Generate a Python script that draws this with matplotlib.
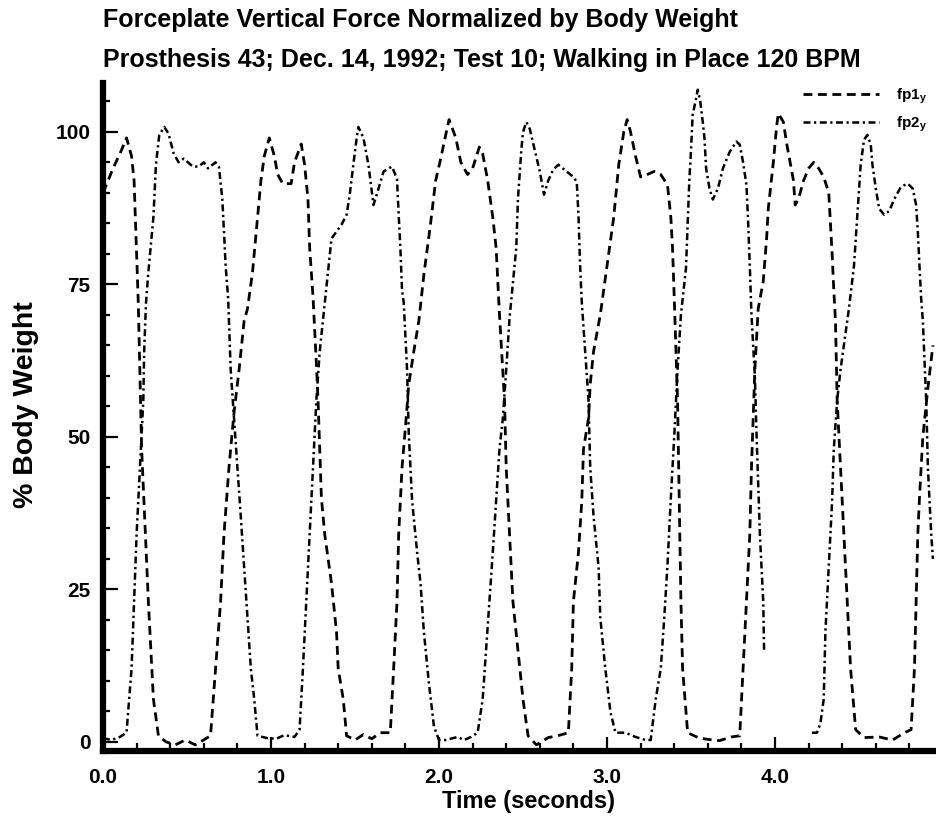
import numpy as np
import matplotlib
matplotlib.use("Agg")
import matplotlib.pyplot as plt

# --- data (time in s, % body weight) ---
t_fp1 = [0.00, 0.06, 0.11, 0.14, 0.17, 0.185, 0.196, 0.21, 0.23, 0.27, 0.30, 0.33,
         0.375, 0.43, 0.49, 0.55, 0.61, 0.64, 0.67, 0.70, 0.72, 0.75, 0.78, 0.81,
         0.84, 0.86, 0.89, 0.92, 0.94, 0.96, 0.99, 1.02, 1.04, 1.07, 1.12, 1.14,
         1.18, 1.20, 1.22, 1.23, 1.25, 1.27, 1.28, 1.30, 1.32, 1.36, 1.39, 1.40,
         1.43, 1.45, 1.50, 1.55, 1.60, 1.65, 1.71, 1.73, 1.75, 1.76, 1.78, 1.80,
         1.82, 1.85, 1.88, 1.91, 1.95, 1.98, 2.01, 2.04, 2.06, 2.10, 2.13, 2.17,
         2.20, 2.24, 2.26, 2.29, 2.32, 2.34, 2.35, 2.36, 2.39, 2.40, 2.42, 2.44,
         2.47, 2.50, 2.53, 2.58, 2.65, 2.72, 2.77, 2.79, 2.80, 2.83, 2.85, 2.86,
         2.89, 2.90, 2.92, 2.96, 3.00, 3.04, 3.07, 3.10, 3.12, 3.14, 3.17, 3.20,
         3.24, 3.28, 3.32, 3.36, 3.38, 3.39, 3.40, 3.42, 3.43, 3.44, 3.45, 3.48,
         3.55, 3.63, 3.67, 3.74, 3.79, 3.81, 3.83, 3.85, 3.86, 3.87, 3.88, 3.90,
         3.93, 3.95, 3.96, 3.99, 4.01, 4.02, 4.05, 4.07, 4.09, 4.11, 4.12, 4.14,
         4.17, 4.20, 4.23, 4.26, 4.29, 4.32, 4.33, 4.34, 4.35, 4.36, 4.37, 4.39,
         4.41, 4.43, 4.45, 4.48, 4.53, 4.62, 4.70, 4.77, 4.81, 4.83, 4.84, 4.85,
         4.86, 4.88, 4.91, 4.94]
fp1 = [90, 94, 97, 99, 96, 92, 83, 72, 48, 23, 7, 1,
       0, -0.5, 0.3, -0.5, 0.5, 1, 12, 23, 34, 45, 54, 61,
       69, 71, 77, 86, 92, 96, 99, 96, 93, 91.5, 91.5, 95,
       98, 94.6, 89, 81, 73, 62, 56, 40, 34, 26, 18, 12,
       7, 1, 0.3, 1.2, 0.5, 1.5, 1.5, 12, 23, 34, 45, 51.5,
       58.6, 64, 69, 76.6, 85, 92, 95.6, 99.5, 102, 99, 95, 93,
       94, 97.5, 96.4, 92, 86, 81, 75.5, 70, 56, 45, 34, 23,
       15, 7, 1, -0.5, 0.7, 1.1, 1.5, 12, 23, 31, 39.5, 48,
       53, 58.6, 64, 70, 78, 86, 94.6, 100, 102, 100, 96, 92.6,
       93, 93.5, 93, 91.3, 86, 81, 73, 56, 39.5, 23, 12, 1.5,
       0.6, 0.3, 0.2, 0.8, 1, 12, 23, 34, 45, 53, 61, 71,
       75.5, 82.5, 87.4, 95, 101, 103, 101.6, 98, 95, 92, 88, 89,
       92, 94, 95, 94, 92.6, 90, 85, 80, 74, 69, 56, 45,
       34, 23, 12, 2, 0.7, 0.8, 0.3, 1.5, 2, 12, 23, 34,
       40, 50, 58, 65]

t_fp2 = [0.00, 0.05, 0.10, 0.14, 0.17, 0.185, 0.20, 0.22, 0.24, 0.245, 0.256, 0.27,
         0.30, 0.315, 0.335, 0.365, 0.39, 0.42, 0.45, 0.48, 0.535, 0.57, 0.60, 0.625,
         0.67, 0.69, 0.71, 0.72, 0.73, 0.745, 0.76, 0.78, 0.80, 0.82, 0.84, 0.86,
         0.88, 0.90, 0.92, 0.98, 1.03, 1.08, 1.14, 1.17, 1.19, 1.21, 1.23, 1.25,
         1.27, 1.29, 1.32, 1.36, 1.42, 1.45, 1.47, 1.49, 1.51, 1.52, 1.55, 1.58,
         1.61, 1.64, 1.67, 1.72, 1.75, 1.76, 1.77, 1.78, 1.79, 1.81, 1.82, 1.84,
         1.87, 1.89, 1.91, 1.94, 1.97, 2.00, 2.04, 2.11, 2.15, 2.19, 2.23, 2.26,
         2.28, 2.30, 2.32, 2.34, 2.36, 2.38, 2.40, 2.42, 2.46, 2.47, 2.49, 2.50,
         2.52, 2.54, 2.57, 2.60, 2.625, 2.65, 2.68, 2.71, 2.76, 2.80, 2.82, 2.83,
         2.84, 2.85, 2.89, 2.90, 2.92, 2.95, 2.96, 2.99, 3.02, 3.05, 3.11, 3.17,
         3.23, 3.26, 3.29, 3.32, 3.34, 3.36, 3.38, 3.40, 3.42, 3.44, 3.47, 3.48,
         3.49, 3.50, 3.51, 3.53, 3.54, 3.555, 3.57, 3.58, 3.59, 3.61, 3.63, 3.66,
         3.69, 3.73, 3.77, 3.79, 3.81, 3.83, 3.84, 3.85, 3.86, 3.88, 3.89, 3.91,
         3.93, 3.935, 4.00, 4.22, 4.25, 4.27, 4.29, 4.30, 4.32, 4.34, 4.35, 4.37,
         4.39, 4.44, 4.47, 4.49, 4.51, 4.53, 4.55, 4.57, 4.58, 4.60, 4.62, 4.65,
         4.68, 4.71, 4.75, 4.79, 4.82, 4.84, 4.85, 4.86, 4.87, 4.88, 4.90, 4.91,
         4.93, 4.94]
fp2 = [0.6, 0.3, 0.8, 1.5, 12, 23, 34, 45, 56, 64, 72, 77,
       86, 94.6, 99.5, 100.8, 99.7, 96.5, 95, 95.6, 94.3, 94.3, 95, 94,
       95, 94.3, 89, 83.7, 78, 72.7, 61, 53, 45, 37, 28.6, 20.4,
       12, 7, 1, 0.6, 0.5, 1.1, 0.8, 2, 12, 23, 34, 45,
       56, 64, 72, 82.5, 84.8, 86.4, 90, 94.6, 99, 100.8, 99, 94.6,
       88, 90.7, 93.5, 94.3, 92.3, 86.4, 81, 74, 72, 61, 50.5, 39.5,
       31, 26, 18, 9.6, 2.5, 0.3, 0.3, 0.8, 0.3, 0.8, 1.5, 7,
       15, 23, 31, 39.5, 48, 53, 61, 69.5, 81, 89, 97, 100,
       101.6, 100.5, 97, 93.5, 89.7, 92, 93.8, 94.6, 93.5, 92.6, 91.8, 86.4,
       78, 72, 56, 45, 37, 28.6, 20.4, 12, 5, 1.5, 1.5, 0.8,
       0.3, 0.3, 7, 12, 20, 29, 40, 50, 61, 70, 77.6, 85,
       92, 97, 102.8, 105.4, 106.9, 105, 101.6, 99, 94, 90.7, 88.9, 90.7,
       94, 96.7, 98.4, 97.9, 95, 91.3, 85.3, 78, 70, 60, 50.5, 34,
       23, 15, np.nan, 1.5, 1.5, 3, 7, 18, 28.6, 39.5, 48, 56,
       61, 71, 78, 86.4, 94.6, 98.7, 99.5, 97.9, 94.6, 90.7, 87.4, 86.4,
       87, 89, 91, 91.5, 90.7, 88, 83.7, 78, 72.7, 69, 56, 45,
       34, 30]

x_major = [0, 1, 2, 3, 4]
x_labels = ["0.0", "1.0", "2.0", "3.0", "4.0"]
y_major = [0, 25, 50, 75, 100]

W, H = 936, 821
plt.rcParams['font.family'] = ['Liberation Sans', 'DejaVu Sans']
plt.rcParams['font.weight'] = 'bold'

fig = plt.figure(figsize=(W / 100, H / 100), dpi=100)
ax = fig.add_axes([103 / W, 1 - 751 / H, (W - 103) / W, (751 - 83) / H])

ax.plot(t_fp1, fp1, color='black', lw=2.0, dashes=(3.2, 2.0), label=r'fp1$_\mathregular{y}$')
ax.plot(t_fp2, fp2, color='black', lw=1.8, dashes=(2.8, 1.4, 0.9, 1.4), label=r'fp2$_\mathregular{y}$')

ax.set_xlim(0, (W - 103) / 168)
ax.set_ylim(-1.5, 108)

for s in ['top', 'right']:
    ax.spines[s].set_visible(False)
for s in ['left', 'bottom']:
    ax.spines[s].set_linewidth(4.5)

ax.set_xticks(x_major)
ax.set_xticklabels(x_labels)
ax.set_xticks(np.arange(0, 5.0, 0.2), minor=True)
ax.set_yticks(y_major)
ax.set_yticks(np.arange(0, 106, 5), minor=True)
ax.tick_params(which='both', direction='in', width=1.6, labelsize=15)
ax.tick_params(axis='x', which='major', length=10, pad=12)
ax.tick_params(axis='x', which='minor', length=6)
ax.tick_params(axis='y', which='major', length=11, pad=9)
ax.tick_params(axis='y', which='minor', length=5)

fig.text(103 / W, 1 - 20 / H, "Forceplate Vertical Force Normalized by Body Weight",
         fontsize=18, va='center', ha='left')
fig.text(103 / W, 1 - 60 / H, "Prosthesis 43; Dec. 14, 1992; Test 10; Walking in Place 120 BPM",
         fontsize=18, va='center', ha='left')
fig.text(529 / W, 1 - 801 / H, "Time (seconds)", fontsize=17, ha='center', va='center')
fig.text(26 / W, 1 - 405 / H, "% Body Weight", fontsize=20.5, ha='center', va='center',
         rotation=90)

ax.legend(loc='upper right', bbox_to_anchor=(0.99, 1 - 86 / H), bbox_transform=fig.transFigure,
          frameon=False, fontsize=11, handlelength=5.0, handletextpad=1.1,
          labelspacing=0.6, borderpad=0, borderaxespad=0)

fig.savefig("out.png", dpi=100)
